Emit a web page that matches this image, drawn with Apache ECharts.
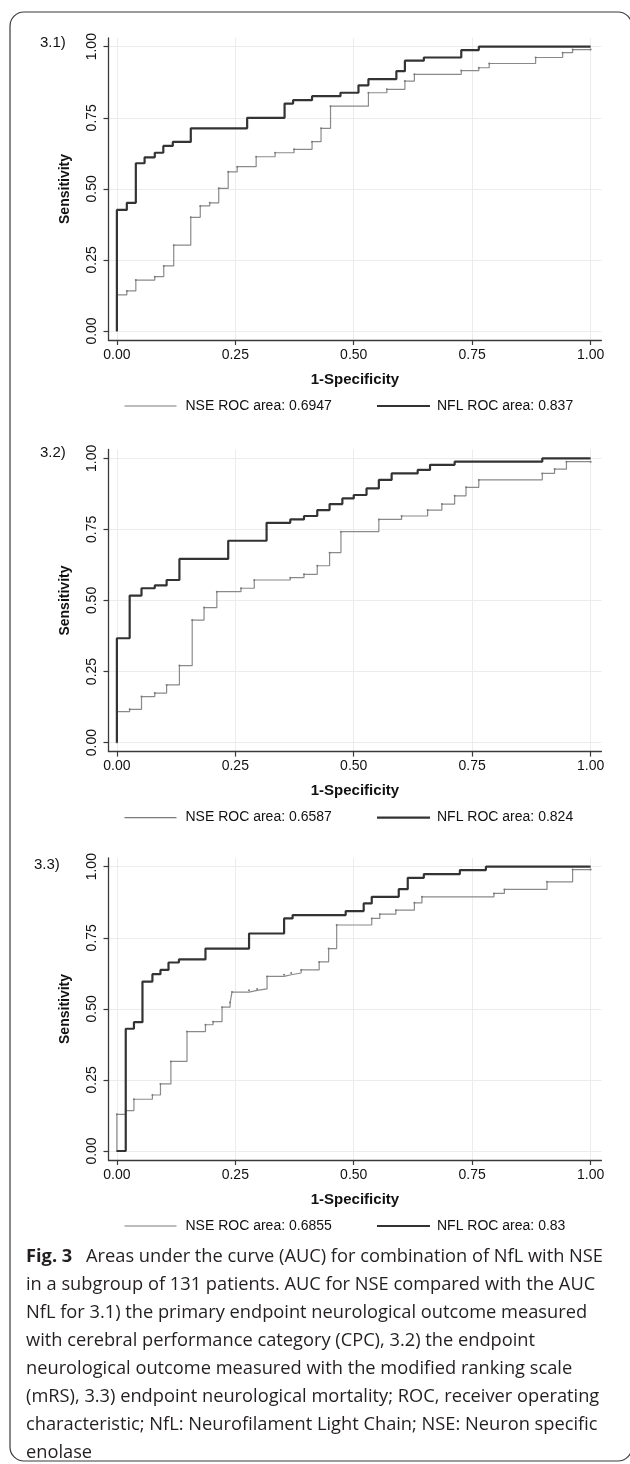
<!DOCTYPE html>
<html>
<head>
<meta charset="utf-8">
<script src="https://cdn.jsdelivr.net/npm/echarts@6/dist/echarts.min.js"></script>
<style>
html,body{margin:0;padding:0;background:#fff;}
#chart{width:630px;height:1464px;}
</style>
</head>
<body>
<div id="chart"></div>
<script>
// ---------------- DATA ----------------
const tickValues = [0, 0.25, 0.5, 0.75, 1];
const panelLabels = ['3.1)', '3.2)', '3.3)'];
const xAxisTitle = '1-Specificity';
const yAxisTitle = 'Sensitivity';
const nseNames = ['NSE ROC area: 0.6947', 'NSE ROC area: 0.6587', 'NSE ROC area: 0.6855'];
const nflNames = ['NFL ROC area: 0.837', 'NFL ROC area: 0.824', 'NFL ROC area: 0.83'];

// Panel 3.1
const nfl1Fpr = [0, 0, 0.021, 0.040, 0.0585, 0.080, 0.098, 0.118, 0.156, 0.275, 0.354, 0.372, 0.412, 0.472, 0.510, 0.531, 0.590, 0.608, 0.648, 0.727, 0.764, 1.0];
const nfl1Tpr = [0, 0.426, 0.451, 0.590, 0.611, 0.627, 0.651, 0.665, 0.713, 0.750, 0.800, 0.812, 0.826, 0.838, 0.864, 0.886, 0.914, 0.951, 0.962, 0.988, 1.0, 1.0];
const nse1Fpr = [0, 0, 0.021, 0.040, 0.080, 0.099, 0.120, 0.156, 0.176, 0.196, 0.215, 0.235, 0.254, 0.294, 0.334, 0.374, 0.412, 0.431, 0.451, 0.531, 0.570, 0.608, 0.628, 0.727, 0.764, 0.786, 0.884, 0.941, 0.962, 1.0];
const nse1Tpr = [0, 0.127, 0.141, 0.179, 0.191, 0.229, 0.302, 0.400, 0.440, 0.451, 0.502, 0.560, 0.578, 0.613, 0.627, 0.639, 0.666, 0.713, 0.791, 0.838, 0.850, 0.879, 0.903, 0.916, 0.926, 0.941, 0.962, 0.979, 0.990, 0.990];

// Panel 3.2
const nfl2Fpr = [0, 0, 0.027, 0.052, 0.080, 0.105, 0.132, 0.235, 0.316, 0.366, 0.395, 0.423, 0.449, 0.476, 0.500, 0.527, 0.553, 0.580, 0.635, 0.661, 0.713, 0.898, 1.0];
const nfl2Tpr = [0, 0.367, 0.517, 0.543, 0.553, 0.572, 0.646, 0.710, 0.773, 0.785, 0.797, 0.818, 0.839, 0.859, 0.871, 0.894, 0.924, 0.947, 0.959, 0.977, 0.988, 1.0, 1.0];
const nse2Fpr = [0, 0, 0.027, 0.052, 0.080, 0.105, 0.132, 0.159, 0.184, 0.211, 0.262, 0.290, 0.366, 0.395, 0.423, 0.449, 0.473, 0.553, 0.601, 0.656, 0.686, 0.713, 0.737, 0.764, 0.898, 0.924, 0.949, 1.0];
const nse2Tpr = [0, 0.109, 0.117, 0.162, 0.174, 0.203, 0.271, 0.431, 0.475, 0.531, 0.543, 0.572, 0.580, 0.592, 0.622, 0.668, 0.742, 0.785, 0.797, 0.818, 0.839, 0.868, 0.898, 0.924, 0.947, 0.962, 0.988, 0.988];

// Panel 3.3
const nfl3Fpr = [0, 0.0187, 0.036, 0.054, 0.075, 0.092, 0.109, 0.131, 0.187, 0.279, 0.353, 0.371, 0.483, 0.521, 0.538, 0.595, 0.614, 0.648, 0.724, 0.779, 1.0];
const nfl3Tpr = [0, 0.430, 0.453, 0.596, 0.622, 0.637, 0.663, 0.674, 0.712, 0.765, 0.818, 0.830, 0.844, 0.871, 0.894, 0.921, 0.961, 0.974, 0.988, 1.0, 1.0];
const nse3Fpr = [0, 0, 0.0187, 0.036, 0.075, 0.092, 0.114, 0.148, 0.187, 0.203, 0.222, 0.239, 0.243, 0.279, 0.296, 0.317, 0.353, 0.368, 0.389, 0.427, 0.447, 0.464, 0.538, 0.555, 0.589, 0.628, 0.644, 0.796, 0.818, 0.908, 0.962, 1.0];
const nse3Tpr = [0, 0.129, 0.142, 0.182, 0.197, 0.236, 0.315, 0.420, 0.444, 0.455, 0.506, 0.522, 0.559, 0.565, 0.570, 0.614, 0.620, 0.626, 0.637, 0.665, 0.712, 0.795, 0.818, 0.833, 0.847, 0.873, 0.894, 0.906, 0.920, 0.947, 0.990, 0.990];

const captionLines = [
  'in a subgroup of 131 patients. AUC for NSE compared with the AUC',
  'NfL for 3.1) the primary endpoint neurological outcome measured',
  'with cerebral performance category (CPC), 3.2) the endpoint',
  'neurological outcome measured with the modified ranking scale',
  '(mRS), 3.3) endpoint neurological mortality; ROC, receiver operating',
  'characteristic; NfL: Neurofilament Light Chain; NSE: Neuron specific',
  'enolase'
];
const captionHead = 'Fig. 3';
const captionFirst = 'Areas under the curve (AUC) for combination of NfL with NSE';

// ---------------- LAYOUT ----------------
const NF = '"Liberation Sans", Arial, Helvetica, sans-serif';
const tickFS = 14;
const xTitleFS = 15;
const yTitleFS = 14;
const capFont = '"Open Sans", "Noto Sans", sans-serif';
const capFS = 18.25;

const gridLeft = 108.5, gridW = 492.9, gridH = 302.1;
const panelTops = [37.9, 449.5, 857.9];
const xMin = -0.0177, xMax = 1.0228, yMin = -0.0317, yMax = 1.031;
const labelPos = [[40, 43], [40, 453.3], [34, 865]];

const fprs = [[nse1Fpr, nfl1Fpr], [nse2Fpr, nfl2Fpr], [nse3Fpr, nfl3Fpr]];
const tprs = [[nse1Tpr, nfl1Tpr], [nse2Tpr, nfl2Tpr], [nse3Tpr, nfl3Tpr]];

const grids = [], xAxes = [], yAxes = [], series = [], legends = [], graphics = [];
const axisColor = '#3a3a3a';
const fmt = v => Number(v).toFixed(2);

for (let p = 0; p < 3; p++) {
  const top = panelTops[p];
  grids.push({ left: gridLeft, top: top, width: gridW, height: gridH, containLabel: false });
  xAxes.push({
    type: 'value', gridIndex: p, min: xMin, max: xMax,
    axisLine: { show: true, onZero: false, lineStyle: { color: axisColor, width: 1.3 } },
    axisTick: { show: true, length: 5, customValues: tickValues, lineStyle: { color: axisColor, width: 1.2 } },
    axisLabel: { customValues: tickValues, formatter: fmt, margin: 8, color: '#111', fontFamily: NF, fontSize: tickFS },
    splitLine: { show: true, lineStyle: { color: '#ececec', width: 1 } },
    name: xAxisTitle, nameLocation: 'middle', nameGap: 32,
    nameTextStyle: { color: '#111', fontFamily: NF, fontSize: xTitleFS, fontWeight: 'bold' }
  });
  yAxes.push({
    type: 'value', gridIndex: p, min: yMin, max: yMax,
    axisLine: { show: true, onZero: false, lineStyle: { color: axisColor, width: 1.3 } },
    axisTick: { show: true, length: 5, customValues: tickValues, lineStyle: { color: axisColor, width: 1.2 } },
    axisLabel: { customValues: tickValues, formatter: fmt, margin: 9, rotate: 90, color: '#111', fontFamily: NF, fontSize: tickFS },
    splitLine: { show: true, lineStyle: { color: '#ececec', width: 1 } },
    name: yAxisTitle, nameLocation: 'middle', nameGap: 36, nameRotate: 90,
    nameTextStyle: { color: '#111', fontFamily: NF, fontSize: yTitleFS, fontWeight: 'bold' }
  });
  const mk = (xs, ys) => xs.map((x, i) => [x, ys[i]]);
  series.push({
    name: nseNames[p], type: 'line', xAxisIndex: p, yAxisIndex: p, step: 'end',
    data: mk(fprs[p][0], tprs[p][0]), symbol: 'circle', symbolSize: 2,
    itemStyle: { color: '#7a7a7a' }, lineStyle: { color: '#8a8a8a', width: 1.2 },
    animation: false, silent: true, z: 2
  });
  series.push({
    name: nflNames[p], type: 'line', xAxisIndex: p, yAxisIndex: p, step: 'end',
    data: mk(fprs[p][1], tprs[p][1]), symbol: 'none',
    itemStyle: { color: '#333' }, lineStyle: { color: '#333', width: 2.2 },
    animation: false, silent: true, z: 3
  });
  const legTop = top + gridH + 67 - 8;
  legends.push({
    data: [nseNames[p]], left: 124.5, top: legTop, padding: 0, icon: 'rect',
    itemWidth: 52, itemHeight: 1.2, selectedMode: false,
    textStyle: { color: '#111', fontFamily: NF, fontSize: tickFS, padding: [0, 0, 0, 4] }
  });
  legends.push({
    data: [nflNames[p]], left: 377, top: legTop, padding: 0, icon: 'rect',
    itemWidth: 53, itemHeight: 2.2, selectedMode: false,
    textStyle: { color: '#111', fontFamily: NF, fontSize: tickFS, padding: [0, 0, 0, 2] }
  });
  graphics.push({
    type: 'text', left: labelPos[p][0], top: labelPos[p][1] - 8, silent: true,
    style: { text: panelLabels[p], fill: '#111', font: '15px ' + NF }
  });
}

// frame
graphics.push({
  type: 'rect', silent: true, z: -1,
  shape: { x: 10, y: 12, width: 622, height: 1449, r: 14 },
  style: { fill: 'none', stroke: '#3a3a3a', lineWidth: 1.2 }
});
// caption
graphics.push({
  type: 'text', silent: true, x: 26, y: 1242.7,
  style: {
    text: '{b|' + captionHead + '} ' + captionFirst + '\n' + captionLines.join('\n'),
    fill: '#231f20', font: capFS + 'px ' + capFont,
    lineHeight: 28, verticalAlign: 'top',
    rich: { b: { fontWeight: 'bold', fontFamily: capFont, fontSize: capFS, lineHeight: 28, fill: '#231f20', padding: [0, 9, 0, 0] } }
  }
});

const chart = echarts.init(document.getElementById('chart'), null, { renderer: 'canvas', width: 630, height: 1464 });
chart.setOption({
  backgroundColor: '#fff',
  animation: false,
  grid: grids, xAxis: xAxes, yAxis: yAxes, series: series, legend: legends,
  graphic: graphics
});
</script>
</body>
</html>
